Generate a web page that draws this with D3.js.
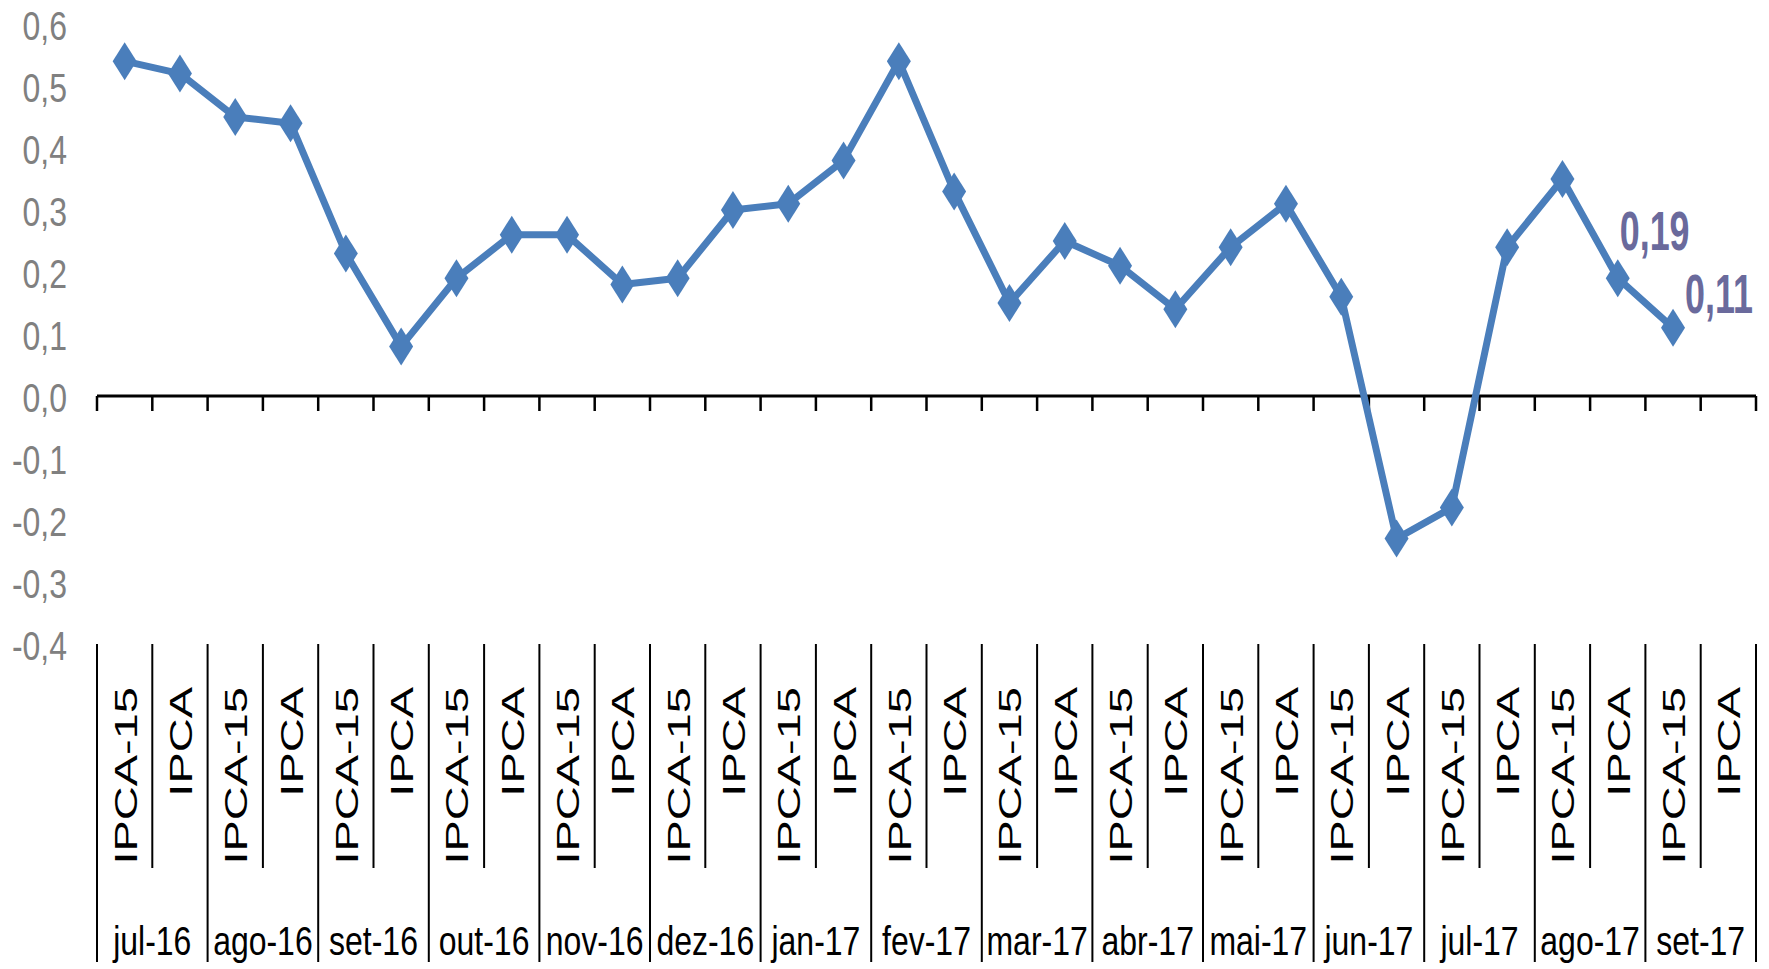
<!DOCTYPE html>
<html>
<head>
<meta charset="utf-8">
<script src="https://cdn.jsdelivr.net/npm/d3@7/dist/d3.min.js"></script>
<style>
  html, body { margin: 0; padding: 0; background: #ffffff; }
  svg { display: block; }
</style>
</head>
<body>
<svg id="chart" width="1769" height="969"></svg>
<script>
// ---- Data ----
const months = ["jul-16","ago-16","set-16","out-16","nov-16","dez-16","jan-17","fev-17","mar-17","abr-17","mai-17","jun-17","jul-17","ago-17","set-17"];
const seriesNames = ["IPCA-15","IPCA"];
const values = [0.54,0.52, 0.45,0.44, 0.23,0.08, 0.19,0.26, 0.26,0.18, 0.19,0.30, 0.31,0.38, 0.54,0.33, 0.15,0.25, 0.21,0.14, 0.24,0.31, 0.16,-0.23, -0.18,0.24, 0.35,0.19, 0.11,null];
const yTicks = [-0.4,-0.3,-0.2,-0.1,0,0.1,0.2,0.3,0.4,0.5,0.6];
const labelledIndices = [27, 28];

(function () {
const categories = [];
months.forEach(m => seriesNames.forEach(s => categories.push({month: m, name: s})));
const points = values.map((v, i) => ({i, v}));

// ---- Layout ----
const svg = d3.select("#chart");
const plotLeft = 97, plotRight = 1756, plotTop = 24, plotBottom = 644;
const x = d3.scaleBand().domain(d3.range(categories.length)).range([plotLeft, plotRight]).padding(0);
const xm = d3.scaleBand().domain(months).range([plotLeft, plotRight]).padding(0);
const y = d3.scaleLinear().domain([-0.4, 0.6]).range([plotBottom, plotTop]);

const loc = d3.formatLocale({decimal: ",", thousands: ".", grouping: [3], currency: ["R$", ""], minus: "-"});
const f1 = loc.format(".1f");
const f2 = loc.format(".2f");

const FONT = "'Liberation Sans', Arial, sans-serif";

// ---- Y axis labels ----
svg.append("g").selectAll("text").data(yTicks).join("text")
  .attr("transform", d => `translate(67,${y(d) + 16}) scale(0.78,1)`)
  .attr("text-anchor", "end")
  .attr("font-family", FONT)
  .attr("font-size", 41)
  .attr("fill", "#808080")
  .text(d => f1(d));

// ---- Category axis line at zero with ticks ----
const gx = svg.append("g");
const bounds = d3.range(categories.length).map(i => x(i)).concat([x.range()[1]]);
gx.append("line")
  .attr("x1", plotLeft).attr("x2", plotRight)
  .attr("y1", y(0)).attr("y2", y(0))
  .attr("stroke", "#000").attr("stroke-width", 3);
gx.selectAll("line.tick").data(bounds).join("line")
  .attr("class", "tick")
  .attr("x1", d => d).attr("x2", d => d)
  .attr("y1", y(0)).attr("y2", y(0) + 15)
  .attr("stroke", "#000").attr("stroke-width", 2.5);

// ---- Multi-level category labels at the bottom ----
const gl = svg.append("g");
gl.selectAll("line.short").data(d3.range(1, categories.length, 2)).join("line")
  .attr("class", "short")
  .attr("x1", i => x(i)).attr("x2", i => x(i))
  .attr("y1", y(-0.4)).attr("y2", 868)
  .attr("stroke", "#000").attr("stroke-width", 2);
const monthBounds = months.map(m => xm(m)).concat([xm.range()[1]]);
gl.selectAll("line.long").data(monthBounds).join("line")
  .attr("class", "long")
  .attr("x1", d => d).attr("x2", d => d)
  .attr("y1", y(-0.4)).attr("y2", 962)
  .attr("stroke", "#000").attr("stroke-width", 2);

gl.selectAll("text.cat").data(categories).join("text")
  .attr("class", "cat")
  .attr("transform", (d, i) => `translate(${x(i) + x.bandwidth() / 2 + 12},687) rotate(-90) scale(1,0.65)`)
  .attr("text-anchor", "end")
  .attr("font-family", FONT)
  .attr("font-size", 47)
  .attr("fill", "#000")
  .text(d => d.name);

gl.selectAll("text.month").data(months).join("text")
  .attr("class", "month")
  .attr("transform", d => `translate(${xm(d) + xm.bandwidth() / 2},955) scale(0.78,1)`)
  .attr("text-anchor", "middle")
  .attr("font-family", FONT)
  .attr("font-size", 41)
  .attr("fill", "#000")
  .text(d => d);

// ---- Line ----
const cx = i => x(i) + x.bandwidth() / 2;
const line = d3.line().defined(d => d.v !== null).x(d => cx(d.i)).y(d => y(d.v));
svg.append("path")
  .datum(points)
  .attr("d", line)
  .attr("fill", "none")
  .attr("stroke", "#4a7ebb")
  .attr("stroke-width", 7)
  .attr("stroke-linejoin", "round");

svg.append("g").selectAll("path").data(points.filter(d => d.v !== null)).join("path")
  .attr("transform", d => `translate(${cx(d.i)},${y(d.v)})`)
  .attr("d", "M0,-19L12,0L0,19L-12,0Z")
  .attr("fill", "#4a7ebb");

// ---- Data labels ----
const labelOffsets = {27: [2, -28], 28: [12, -15]};
svg.append("g").selectAll("text").data(labelledIndices).join("text")
  .attr("transform", i => `translate(${cx(i) + labelOffsets[i][0]},${y(values[i]) + labelOffsets[i][1]}) scale(0.64,1)`)
  .attr("text-anchor", "start")
  .attr("font-family", FONT)
  .attr("font-weight", "bold")
  .attr("font-size", 56)
  .attr("fill", "#6a6a9c")
  .text(i => f2(values[i]));
})();
</script>
</body>
</html>
